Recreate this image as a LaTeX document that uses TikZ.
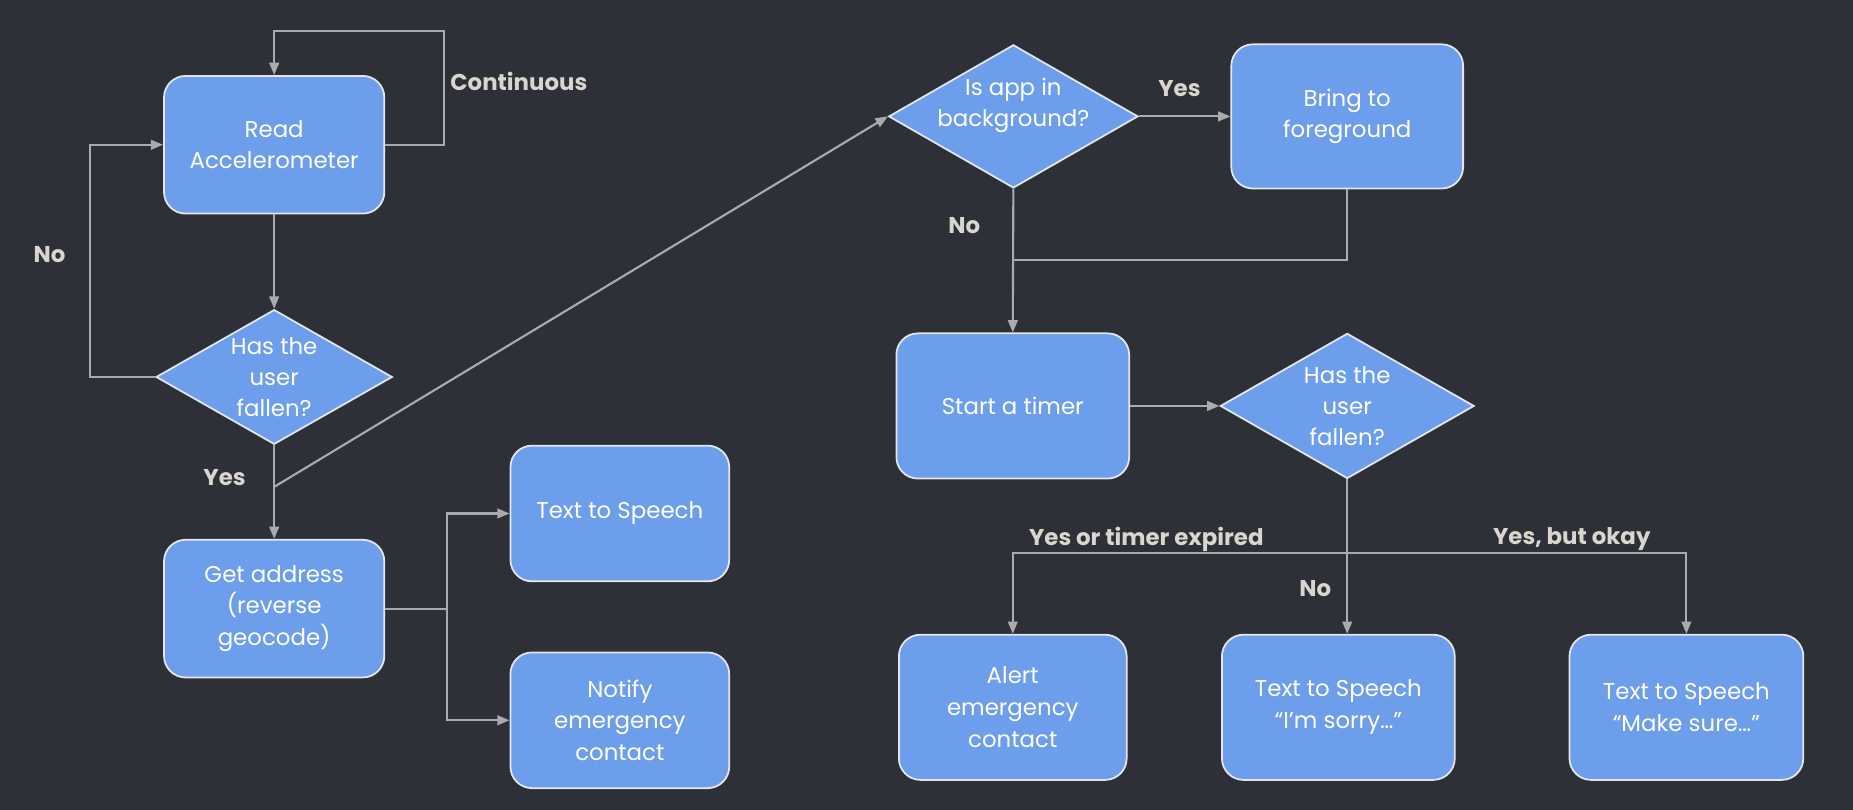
\documentclass[tikz,border=0pt]{standalone}
\usepackage{fontspec}
\setmainfont{Poppins}
\usepackage{tikz}
\usetikzlibrary{shapes.geometric,arrows.meta}
\definecolor{bgdark}{HTML}{2E3038}
\definecolor{boxblue}{HTML}{6D9EEB}
\definecolor{boxline}{HTML}{E4E6EE}
\definecolor{linegray}{HTML}{ABABAD}
\definecolor{lblgray}{HTML}{D8D6CE}
\tikzset{
  box/.style={draw=boxline,fill=boxblue,line width=1pt,rounded corners=0.43cm,text=white,align=center,
    minimum width=4.4cm,minimum height=2.75cm,font=\fontsize{13}{18}\selectfont},
  decision/.style={shape=diamond,draw=boxline,fill=boxblue,line width=1pt,text=white,align=center,
    inner sep=-0.6cm,font=\fontsize{13}{17.5}\selectfont},
  line/.style={draw=linegray,line width=1.2pt},
  arr/.style={line,-{Triangle[length=7pt,width=5.5pt]}},
  lbl/.style={text=lblgray,font=\fontsize{13}{16}\selectfont\bfseries}
}
\begin{document}
\begin{tikzpicture}[x=0.0236cm,y=-0.0236cm]
\fill[bgdark](0,0)rectangle(1568,685);
\useasboundingbox(0,0)rectangle(1568,685);
% left column
\node[box](ra)at(232,122.5){Read\\Accelerometer};
\node[decision,minimum width=4.72cm,minimum height=2.69cm](fall1)at(232,319){Has the\\user\\fallen?};
\node[box](addr)at(232,515){Get address\\(reverse\\geocode)};
\node[box,minimum width=4.37cm,minimum height=2.71cm](tts1)at(524.5,434.5){Text to Speech};
\node[box,minimum width=4.37cm,minimum height=2.71cm](notify)at(524.5,609.5){Notify\\emergency\\contact};
% right part
\node[decision,minimum width=4.98cm,minimum height=2.86cm,text depth=0.55cm](bg)at(857.5,98.5){Is app in\\background?};
\node[box,minimum width=4.63cm,minimum height=2.88cm](fore)at(1140,98.5){Bring to\\foreground};
\node[box,minimum width=4.65cm,minimum height=2.9cm](timer)at(857,343.5){Start a timer};
\node[decision,minimum width=5.07cm,minimum height=2.9cm](fall2)at(1140,343.5){Has the\\user\\fallen?};
\node[box,minimum width=4.55cm,minimum height=2.9cm](alert)at(857,598.5){Alert\\emergency\\contact};
\node[box,minimum width=4.65cm,minimum height=2.9cm](sorry)at(1132.5,598.5){Text to Speech\\“I’m sorry…”};
\node[box,minimum width=4.67cm,minimum height=2.9cm](sure)at(1427,598.5){Text to Speech\\“Make sure…”};
% labels
\node[lbl](lcont)at(439,69){Continuous};
\node[lbl](lno1)at(42,215){No};
\node[lbl](lyes1)at(190,404){Yes};
\node[lbl](lyes2)at(998,75){Yes};
\node[lbl](lno2)at(816,191){No};
\node[lbl](lexp)at(970,456){Yes or timer expired};
\node[lbl](lokay)at(1330,456){Yes, but okay};
\node[lbl](lno3)at(1113,498){No};
% helper points
\coordinate(loopR)at(376,26);
\coordinate(loopL)at(76,220);
\coordinate(yesfork)at(232,412);
\coordinate(split)at(378,515);
\coordinate(merge)at(857,220);
\coordinate(fan)at(1140,468);
% connectors
\draw[arr](ra.east)-|(loopR)-|(ra.north);
\draw[arr](fall1.west)-|(loopL)|-(ra.west);
\draw[arr](ra.south)--(fall1.north);
\draw[arr](fall1.south)--(addr.north);
\draw[arr](yesfork)--(bg.west);
\draw[line](addr.east)--(split);
\draw[arr](split)|-(tts1.west);
\draw[arr](split)|-(notify.west);
\draw[arr](bg.east)--(fore.west);
\draw[arr](bg.south)--(timer.north);
\draw[line](fore.south)|-(merge);
\draw[arr](timer.east)--(fall2.west);
\draw[arr](fall2.south)--(fall2.south|-sorry.north);
\draw[arr](fan)-|(alert.north);
\draw[arr](fan)-|(sure.north);
\end{tikzpicture}
\end{document}
